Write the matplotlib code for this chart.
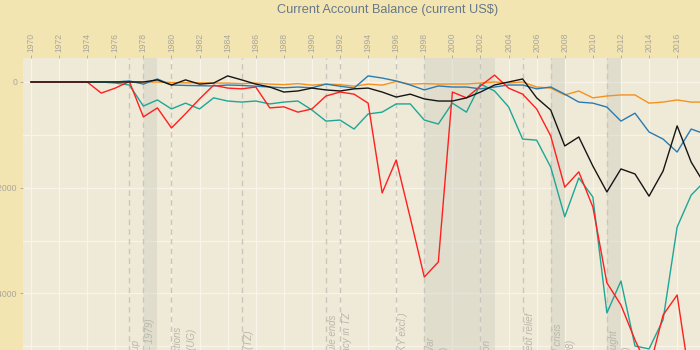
import matplotlib
matplotlib.use("Agg")
import matplotlib.pyplot as plt
from matplotlib.ticker import MultipleLocator
import matplotlib.transforms as mtransforms

plt.rcParams['font.family'] = ['Liberation Sans', 'DejaVu Sans']

years = list(range(1970, 2019))

# current account balance, millions of current US$
kenya = [0, 0, 0, 0, 0, -210, -115, 10, -660, -490,
         -870, -600, -320, -60, -115, -130, -95, -490, -470, -570,
         -510, -265, -190, -230, -400, -2100, -1475, -2570, -3690, -3405,
         -190, -300, -75, 130, -115, -230, -510, -1020, -1990, -1700,
         -2365, -3800, -4220, -4880, -5450, -4410, -4030, -5800, -5000]
tanzania = [0, 0, 0, 0, 0, 0, -20, -57, -455, -340,
            -510, -400, -510, -300, -360, -380, -360, -415, -380, -360,
            -530, -740, -720, -890, -605, -570, -415, -415, -720, -795,
            -400, -570, -40, -170, -470, -1080, -1100, -1610, -2550, -1815,
            -2175, -4370, -3765, -4995, -5050, -4500, -2745, -2140, -1870]
uganda = [0, 0, 0, 0, 0, 0, 0, 0, 0, 40,
          -57, 40, -40, -20, 115, 40, -40, -95, -190, -170,
          -115, -150, -170, -130, -115, -190, -285, -230, -320, -360,
          -360, -300, -190, -57, 0, 57, -300, -530, -1210, -1040,
          -1590, -2080, -1645, -1740, -2160, -1685, -830, -1515, -1950]
rwanda = [0, 0, 0, 0, 0, 0, 0, 20, -40, 57,
          -57, -65, -70, -75, -57, -65, -80, -95, -110, -95,
          -110, -40, -80, -115, 115, 75, 20, -57, -150, -75,
          -95, -95, -130, -95, -57, -57, -130, -95, -230, -380,
          -400, -475, -740, -590, -945, -1080, -1325, -890, -985]
burundi = [0, 0, 0, 0, 0, 0, 0, 0, 0, 0,
           -10, -15, -15, -20, -20, -30, -20, -40, -50, -30,
           -60, -40, -50, -80, -40, -60, 10, -40, -30, -40,
           -38, -38, -19, 0, -19, 0, -95, -115, -245, -170,
           -300, -265, -245, -245, -400, -380, -340, -380, -380]

# shaded periods and dated events
periods = [(1978, 1979), (1998, 2003), (2007, 2008), (2011, 2012)]
event_years = [1977, 1978, 1980, 1985, 1991, 1992, 1996, 1998, 2002, 2005, 2007, 2011]
event_labels = [
    "EAC break-up",
    "Uganda-Tanzania War (1978 - 1979)",
    "Disputed elections\nand civil war (UG)",
    "Economic reforms (TZ)",
    "Single-party rule ends",
    "Multi-party democracy in TZ",
    "Tripartite Commission (KY excl.)",
    "2nd Congo War\n(1998 - 2003)",
    "Kenyan transition",
    "MDRI debt relief",
    "Global food crisis\n(2007 - 2008)",
    "Regional drought\n(2011 - 2012)",
]
# where the upper end of each label sits
label_top = [-4880, -4480, -4630, -4690, -4410, -4350, -4350, -4820, -4880, -4370, -4560, -4690]

outer_bg = '#f3e5b2'
panel_bg = '#efe9d7'
grid_col = '#f8f4e9'
muted = '#aaa79b'

fig = plt.figure(figsize=(7, 3.5), dpi=100, facecolor=outer_bg)
ax = fig.add_axes([23 / 700, 1 - 420 / 350, (760 - 23) / 700, (420 - 58) / 350])
ax.set_facecolor(panel_bg)

for a, b in periods:
    ax.axvspan(a, b, color='#c8cbbe', alpha=0.38, lw=0, zorder=1)

for yr in event_years:
    ax.axvline(yr, color='#c9c6bb', lw=1.0, ls=(0, (4, 3)), zorder=2)

ax.plot(years, burundi, color='#f5921e', lw=1.0, zorder=3)
ax.plot(years, rwanda, color='#2b7bb0', lw=1.0, zorder=3)
ax.plot(years, tanzania, color='#1ea696', lw=1.0, zorder=3)
ax.plot(years, kenya, color='#ff1f1f', lw=1.0, zorder=3)
ax.plot(years, uganda, color='#151515', lw=1.0, zorder=3)

shift = mtransforms.offset_copy(ax.transData, fig=fig, x=2, y=0, units='dots')
for yr, txt, top in zip(event_years, event_labels, label_top):
    ax.text(yr, top, txt, transform=shift, rotation=90, ha='left', va='top',
            multialignment='left', linespacing=1.45, fontsize=7,
            fontstyle='italic', color='#b9b6ab', zorder=4)

ax.set_xlim(1969.43, 2021.9)
ax.set_ylim(-6395, 454)

ax.xaxis.tick_top()
ax.set_xticks(range(1970, 2022, 2))
ax.set_xticklabels([str(y) for y in range(1970, 2022, 2)], rotation=90)
ax.set_yticks([0, -2000, -4000, -6000])
ax.yaxis.set_minor_locator(MultipleLocator(1000))

ax.grid(True, which='major', color=grid_col, lw=0.9, zorder=0)
ax.grid(True, which='minor', axis='y', color=grid_col, lw=0.9, zorder=0)
ax.set_axisbelow(True)

ax.tick_params(which='major', length=2.3, width=0.6, color=muted,
               labelcolor=muted, labelsize=6.2, pad=1.8)
ax.tick_params(which='minor', length=0)
for s in ax.spines.values():
    s.set_visible(False)

fig.text(388 / 700, 1 - 10 / 350, "Current Account Balance (current US$)",
         ha='center', va='center', fontsize=9.2, color='#66788a')

fig.savefig('out.png', dpi=100, facecolor=outer_bg)
